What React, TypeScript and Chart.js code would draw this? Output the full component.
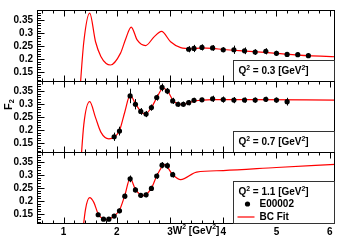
import { useEffect, useRef } from 'react';
import { Chart, registerables } from 'chart.js';

Chart.register(...registerables);

// ---- axis ticks / labels ----
const xTicks = [1, 2, 3, 4, 5, 6];
const yTicks = [0.15, 0.2, 0.25, 0.3, 0.35];
const q2Labels = ['0.3', '0.7', '1.1'];

// ---- panel 1 : Q2 = 0.3 ----
const w2P1 = [3.35, 3.45, 3.6, 3.8, 4.0, 4.2, 4.4, 4.6, 4.8, 5.0, 5.2, 5.4, 5.6];
const f2P1 = [0.238, 0.241, 0.245, 0.243, 0.236, 0.236, 0.232, 0.227, 0.23, 0.222, 0.218, 0.217, 0.213];
const errP1 = [0.012, 0.014, 0.012, 0.011, 0.01, 0.016, 0.013, 0.011, 0.012, 0.01, 0.008, 0.008, 0.009];
const fitW2P1 = [1.3, 1.38, 1.49, 1.6, 1.7, 1.8, 1.88, 2.07, 2.17, 2.27, 2.385, 2.54, 2.7, 2.84, 3.01, 3.2, 3.4, 3.6, 3.8, 4.0, 4.5, 5.0, 5.6, 6.1];
const fitF2P1 = [0.06, 0.267, 0.378, 0.267, 0.21, 0.183, 0.177, 0.223, 0.28, 0.324, 0.273, 0.252, 0.286, 0.307, 0.267, 0.244, 0.24, 0.243, 0.241, 0.237, 0.23, 0.222, 0.213, 0.209];

// ---- panel 2 : Q2 = 0.7 ----
const w2P2 = [1.95, 2.05, 2.25, 2.35, 2.45, 2.55, 2.65, 2.75, 2.85, 2.95, 3.05, 3.15, 3.25, 3.35, 3.45, 3.6, 3.8, 4.0, 4.2, 4.4, 4.6, 4.8, 5.0, 5.2];
const f2P2 = [0.174, 0.196, 0.332, 0.3, 0.272, 0.262, 0.287, 0.326, 0.365, 0.351, 0.313, 0.3, 0.3, 0.306, 0.315, 0.317, 0.321, 0.318, 0.316, 0.316, 0.316, 0.319, 0.316, 0.31];
const errP2 = [0.016, 0.017, 0.028, 0.02, 0.013, 0.012, 0.012, 0.012, 0.015, 0.012, 0.012, 0.01, 0.01, 0.01, 0.01, 0.008, 0.012, 0.012, 0.012, 0.01, 0.01, 0.01, 0.01, 0.015];
const fitW2P2 = [1.3, 1.38, 1.49, 1.6, 1.7, 1.85, 1.95, 2.05, 2.15, 2.25, 2.35, 2.45, 2.53, 2.65, 2.75, 2.87, 2.96, 3.06, 3.2, 3.3, 3.45, 3.8, 4.5, 6.1];
const fitF2P2 = [0.0, 0.222, 0.31, 0.248, 0.192, 0.166, 0.172, 0.198, 0.27, 0.335, 0.302, 0.272, 0.262, 0.287, 0.325, 0.362, 0.35, 0.314, 0.3, 0.302, 0.312, 0.318, 0.318, 0.316];

// ---- panel 3 : Q2 = 1.1 ----
const w2P3 = [1.65, 1.75, 1.85, 1.95, 2.05, 2.15, 2.25, 2.35, 2.45, 2.55, 2.65, 2.75, 2.85, 2.95, 3.05];
const f2P3 = [0.147, 0.13, 0.13, 0.142, 0.162, 0.219, 0.286, 0.243, 0.222, 0.224, 0.249, 0.297, 0.339, 0.337, 0.302];
const errP3 = [0.008, 0.007, 0.007, 0.008, 0.009, 0.01, 0.013, 0.01, 0.009, 0.009, 0.01, 0.011, 0.012, 0.012, 0.011];
const fitW2P3 = [1.32, 1.41, 1.49, 1.57, 1.65, 1.8, 1.95, 2.05, 2.15, 2.25, 2.35, 2.5, 2.65, 2.75, 2.9, 3.05, 3.2, 3.5, 4.0, 5.0, 6.1];
const fitF2P3 = [0.0, 0.166, 0.213, 0.194, 0.15, 0.128, 0.142, 0.165, 0.222, 0.288, 0.245, 0.221, 0.25, 0.297, 0.341, 0.302, 0.283, 0.312, 0.318, 0.33, 0.342];

const FONT = 'Liberation Sans, Arial, Helvetica, sans-serif';
const RED = '#ff0000';

const zip = (xs: number[], ys: number[]) => xs.map((x, i) => ({ x, y: ys[i] }));

// panels from top to bottom
const panels = [
  { id: 'yTop', w2: w2P1, f2: f2P1, err: errP1, fw: fitW2P1, ff: fitF2P1 },
  { id: 'yMid', w2: w2P2, f2: f2P2, err: errP2, fw: fitW2P2, ff: fitF2P2 },
  { id: 'yBot', w2: w2P3, f2: f2P3, err: errP3, fw: fitW2P3, ff: fitF2P3 },
];

type Seg = [string, number]; // text, 0 normal / 1 sup / -1 sub

function drawSegs(ctx: CanvasRenderingContext2D, x: number, y: number, segs: Seg[], size: number, measureOnly = false) {
  let cx = x;
  for (const [t, k] of segs) {
    const s = k === 0 ? size : size * 0.68;
    ctx.font = `bold ${s}px ${FONT}`;
    const dy = k === 1 ? -size * 0.38 : k === -1 ? size * 0.28 : 0;
    if (!measureOnly) ctx.fillText(t, cx, y + dy);
    cx += ctx.measureText(t).width;
  }
  return cx - x;
}

const decor = {
  id: 'decor',
  afterDatasetsDraw(chart: any) {
    const ctx: CanvasRenderingContext2D = chart.ctx;
    const xs = chart.scales.x;
    const { left, right } = chart.chartArea;
    ctx.save();
    // error bars
    chart.data.datasets.forEach((ds: any) => {
      if (!ds.errors) return;
      const ys = chart.scales[ds.yAxisID];
      ctx.strokeStyle = '#000';
      ctx.lineWidth = 1;
      ds.data.forEach((p: any, j: number) => {
        const px = Math.round(xs.getPixelForValue(p.x)) + 0.5;
        ctx.beginPath();
        ctx.moveTo(px, ys.getPixelForValue(p.y + ds.errors[j]));
        ctx.lineTo(px, ys.getPixelForValue(p.y - ds.errors[j]));
        ctx.stroke();
      });
    });

    const line = (x1: number, y1: number, x2: number, y2: number) => {
      ctx.beginPath();
      ctx.moveTo(x1, y1);
      ctx.lineTo(x2, y2);
      ctx.stroke();
    };

    panels.forEach((p, k) => {
      const ys = chart.scales[p.id];
      const top = Math.round(ys.top) + 0.5;
      const bot = Math.round(ys.bottom) + 0.5;
      const l = Math.round(left) + 0.5;
      const r = Math.round(right) - 0.5;
      ctx.strokeStyle = '#000';
      ctx.lineWidth = 1;
      ctx.strokeRect(l, top, r - l, bot - top);
      // y ticks
      for (let v = Math.ceil(ys.min * 100); v <= Math.floor(ys.max * 100); v++) {
        const py = Math.round(ys.getPixelForValue(v / 100)) + 0.5;
        const len = v % 5 === 0 ? 7 : 3.5;
        line(l, py, l + len, py);
      }
      // x ticks top & bottom
      for (let v = Math.ceil(xs.min * 5); v <= Math.floor(xs.max * 5); v++) {
        const px = Math.round(xs.getPixelForValue(v / 5)) + 0.5;
        const len = v % 5 === 0 ? 6 : 3;
        line(px, top, px, top + len);
        line(px, bot, px, bot - len);
      }
      // legend box
      const bx = Math.round(right) - 101.5;
      const bh = k === 2 ? 42 : 21;
      const by = bot - bh;
      ctx.fillStyle = '#fff';
      ctx.fillRect(bx, by, r - bx, bh);
      ctx.strokeStyle = '#333';
      ctx.strokeRect(bx, by, r - bx, bh);
      ctx.fillStyle = '#000';
      ctx.textBaseline = 'middle';
      ctx.textAlign = 'left';
      drawSegs(ctx, bx + 5, by + 11, [['Q', 0], ['2', 1], [` = ${q2Labels[k]} [GeV`, 0], ['2', 1], [']', 0]], 10);
      if (k === 2) {
        ctx.beginPath();
        ctx.arc(bx + 14, by + 22.5, 2.6, 0, Math.PI * 2);
        ctx.fill();
        drawSegs(ctx, bx + 26, by + 23, [['E00002', 0]], 10);
        ctx.strokeStyle = RED;
        ctx.lineWidth = 1.2;
        line(bx + 4, by + 35.5, bx + 21, by + 35.5);
        ctx.fillStyle = '#000';
        drawSegs(ctx, bx + 26, by + 36, [['BC Fit', 0]], 10);
      }
    });

    // y title F2
    ctx.save();
    ctx.translate(9, 110);
    ctx.rotate(-Math.PI / 2);
    ctx.fillStyle = '#000';
    ctx.textBaseline = 'middle';
    drawSegs(ctx, 0, 0, [['F', 0], ['2', -1]], 11);
    ctx.restore();

    // x title
    ctx.fillStyle = '#000';
    ctx.textBaseline = 'middle';
    const segs: Seg[] = [['W', 0], ['2', 1], [' [GeV', 0], ['2', 1], [']', 0]];
    const w = drawSegs(ctx, 0, 0, segs, 10, true);
    drawSegs(ctx, xs.getPixelForValue(4) - 4 - w, 231, segs, 10);
    ctx.restore();
  },
};

export default function App() {
  const ref = useRef<HTMLCanvasElement | null>(null);
  useEffect(() => {
    if (!ref.current) return;
    const tickFont = { family: FONT, size: 10, weight: 'bold' as const };
    const yScale = () => ({
      type: 'linear' as const,
      position: 'left' as const,
      stack: 'panels',
      stackWeight: 1,
      min: 0.115,
      max: 0.39,
      afterBuildTicks: (s: any) => {
        s.ticks = yTicks.map((v) => ({ value: v }));
      },
      afterFit: (s: any) => {
        s.width = 37;
      },
      grid: { display: false, drawTicks: false },
      border: { display: false },
      ticks: { font: tickFont, color: '#000', padding: 4, autoSkip: false, callback: (v: any) => String(v) },
    });
    const pointSets = panels.map((p) => ({
      type: 'line' as const,
      data: zip(p.w2, p.f2),
      errors: p.err,
      yAxisID: p.id,
      showLine: false,
      pointRadius: 2.6,
      pointBackgroundColor: '#000',
      pointBorderWidth: 0,
      label: 'E00002',
    }));
    const fitSets = panels.map((p) => ({
      type: 'line' as const,
      data: zip(p.fw, p.ff),
      yAxisID: p.id,
      borderColor: RED,
      borderWidth: 1.2,
      pointRadius: 0,
      cubicInterpolationMode: 'monotone' as const,
      label: 'BC Fit',
    }));
    const chart = new Chart(ref.current, {
      type: 'line',
      data: { datasets: [...pointSets, ...fitSets] as any },
      options: {
        animation: false,
        responsive: false,
        devicePixelRatio: 1,
        layout: { padding: { left: 0, right: 4, top: 7, bottom: 0 } },
        plugins: { legend: { display: false }, tooltip: { enabled: false } },
        scales: {
          x: {
            type: 'linear',
            position: 'bottom',
            min: 0.5,
            max: 6.1,
            afterBuildTicks: (s: any) => {
              s.ticks = xTicks.map((v) => ({ value: v }));
            },
            afterFit: (s: any) => {
              s.height = 19;
            },
            grid: { display: false, drawTicks: false },
            border: { display: false },
            ticks: { font: tickFont, color: '#000', padding: 3, maxRotation: 0, autoSkip: false },
          },
          yBot: yScale(),
          yMid: yScale(),
          yTop: yScale(),
        } as any,
      },
      plugins: [decor],
    });
    return () => chart.destroy();
  }, []);
  return (
    <div style={{ position: 'fixed', left: 0, top: 0, width: 339, height: 242, background: '#fff' }}>
      <canvas ref={ref} width={339} height={242} style={{ width: 339, height: 242 }} />
    </div>
  );
}
